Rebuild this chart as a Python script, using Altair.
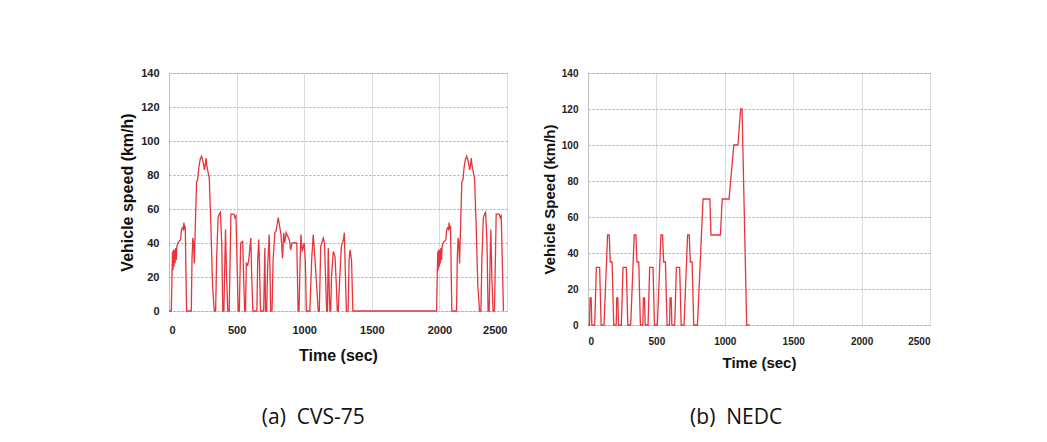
import altair as alt
import pandas as pd

# ---------------- CVS-75 (FTP-75) trace ----------------
cvs_phase1_t = [0, 17, 22, 26, 29, 33, 37, 41, 45, 49,
                54, 58, 65, 75, 86, 92, 100, 106, 110, 115,
                120, 124, 130, 165, 170, 176, 182, 187, 193, 199,
                204, 212, 220, 230, 240, 248, 256, 262, 268, 274,
                280, 288, 298, 310, 322, 335, 345, 352, 363, 372,
                380, 390, 398, 406, 412, 418, 426, 435, 445, 452,
                458, 470, 480, 488, 495, 503, 512]
cvs_phase1_v = [0, 0, 20, 35, 24, 36, 26, 36, 28, 37,
                30, 38, 40, 41, 42, 48, 49, 48, 52, 49,
                50, 30, 0, 0, 30, 43, 40, 28, 45, 62,
                76, 77, 84, 89, 91, 89, 86, 83, 86, 90,
                85, 82, 78, 50, 15, 0, 0, 30, 55, 57,
                58, 40, 0, 0, 25, 48, 20, 0, 0, 30,
                57, 57, 57, 55, 56, 30, 0]

cvs_phase2_t = [520, 530, 545, 552, 560, 566, 572, 582, 590, 605,
                612, 620, 650, 656, 664, 670, 677, 700, 709, 714,
                722, 730, 741, 748, 752, 762, 770, 783, 792, 808,
                818, 828, 840, 848, 856, 866, 878, 890, 900, 910,
                930, 945, 955, 962, 970, 976, 985, 1000, 1008, 1016,
                1042, 1055, 1067, 1080, 1092, 1104, 1112, 1122, 1141, 1150,
                1160, 1166, 1172, 1178, 1186, 1191, 1196, 1202, 1215, 1228,
                1238, 1245, 1252, 1262, 1275, 1290, 1297, 1305, 1312, 1325,
                1332, 1339, 1350, 1360, 1370]
cvs_phase2_v = [0, 40, 41, 20, 0, 0, 28, 27, 30, 43,
                20, 0, 0, 30, 42, 25, 0, 0, 37, 0,
                0, 26, 45, 20, 0, 0, 30, 46, 47, 55,
                50, 45, 31, 46, 40, 46, 44, 42, 36, 40,
                40, 40, 0, 0, 30, 45, 35, 40, 30, 0,
                0, 30, 45, 30, 15, 0, 0, 38, 43, 40,
                15, 0, 0, 37, 10, 0, 0, 20, 35, 32,
                15, 0, 0, 18, 38, 42, 46, 20, 0, 0,
                30, 36, 30, 0, 0]

cvs_phase3_t = [1962, 1979, 1984, 1988, 1991, 1995, 1999, 2003, 2007, 2011,
                2016, 2020, 2027, 2037, 2048, 2054, 2062, 2068, 2072, 2077,
                2082, 2086, 2092, 2127, 2132, 2138, 2144, 2149, 2155, 2161,
                2166, 2174, 2182, 2192, 2202, 2210, 2218, 2224, 2230, 2236,
                2242, 2250, 2260, 2272, 2284, 2297, 2307, 2314, 2325, 2334,
                2342, 2352, 2360, 2368, 2374, 2380, 2388, 2397, 2407, 2414,
                2420, 2432, 2442, 2450, 2457, 2465, 2474]
cvs_phase3_v = [0, 0, 20, 35, 24, 36, 26, 36, 28, 37,
                30, 38, 40, 41, 42, 48, 49, 48, 52, 49,
                50, 30, 0, 0, 30, 43, 40, 28, 45, 62,
                76, 77, 84, 89, 91, 89, 86, 83, 86, 90,
                85, 82, 78, 50, 15, 0, 0, 30, 55, 57,
                58, 40, 0, 0, 25, 48, 20, 0, 0, 30,
                57, 57, 57, 55, 56, 30, 0]

# ---------------- NEDC trace ----------------
nedc_t = [0, 11, 15, 23, 28, 49, 61, 85, 96, 117, 143, 155, 163, 176, 188,
          195, 206, 210, 218, 223, 244, 256, 280, 291, 312, 338, 350, 358, 371, 383,
          390, 401, 405, 413, 418, 439, 451, 475, 486, 507, 533, 545, 553, 566, 578,
          585, 596, 600, 608, 613, 634, 646, 670, 681, 702, 728, 740, 748, 761, 773,
          780, 800, 841, 891, 899, 968, 981, 1031, 1066, 1096, 1116, 1126, 1160, 1180]
nedc_v = [0, 0, 15, 15, 0, 0, 32, 32, 0, 0, 50, 50, 35, 35, 0,
          0, 0, 15, 15, 0, 0, 32, 32, 0, 0, 50, 50, 35, 35, 0,
          0, 0, 15, 15, 0, 0, 32, 32, 0, 0, 50, 50, 35, 35, 0,
          0, 0, 15, 15, 0, 0, 32, 32, 0, 0, 50, 50, 35, 35, 0,
          0, 0, 70, 70, 50, 50, 70, 70, 100, 100, 120, 120, 0, 0]

x_ticks = [0, 500, 1000, 1500, 2000, 2500]
y_ticks = [0, 20, 40, 60, 80, 100, 120, 140]

captions = ["(a)\u00a0\u00a0CVS-75", "(b)\u00a0\u00a0NEDC"]
y_titles = ["Vehicle speed (km/h)", "Vehicle Speed (km/h)"]
x_title = "Time (sec)"

cvs_df = pd.DataFrame({
    "t": cvs_phase1_t + cvs_phase2_t + cvs_phase3_t,
    "v": cvs_phase1_v + cvs_phase2_v + cvs_phase3_v,
})
nedc_df = pd.DataFrame({"t": nedc_t, "v": nedc_v})

LINE = "#e8343c"
FONT = "Liberation Sans"


def panel(df, ytitle, caption, w, h, title_size, label_size, label_pad, title_pad_x,
          cap_offset, ytp):
    x = alt.X("t:Q", scale=alt.Scale(domain=[0, 2500], nice=False),
              axis=alt.Axis(values=x_ticks, format="d", title=x_title, grid=True,
                            gridColor="#dcdcdc", gridWidth=1, ticks=False, domain=False,
                            labelFont=FONT, labelFontWeight="bold", labelFontSize=label_size,
                            labelColor="#222", labelPadding=label_pad, titleFont=FONT,
                            titleFontWeight="bold", titleFontSize=title_size,
                            titleColor="#111", titlePadding=title_pad_x))
    y = alt.Y("v:Q", scale=alt.Scale(domain=[0, 140], nice=False),
              axis=alt.Axis(values=y_ticks, format="d", title=ytitle, grid=True,
                            gridColor="#a8a8a8", gridDash=[2, 2], gridWidth=1, ticks=False,
                            domain=True, domainColor="#c0c0c0", labelFont=FONT,
                            labelFontWeight="bold", labelFontSize=label_size,
                            labelColor="#222", labelPadding=10, titleFont=FONT,
                            titleFontWeight="bold", titleFontSize=title_size,
                            titleColor="#111", titlePadding=ytp))
    return alt.Chart(df).mark_line(color=LINE, strokeWidth=1.3).encode(
        x=x, y=y, order="t:Q"
    ).properties(
        width=w, height=h,
        title=alt.TitleParams(caption, orient="bottom", anchor="middle", frame="bounds",
                              font="Open Sans", fontSize=21, fontWeight="normal",
                              color="#111", offset=cap_offset),
    )


left = panel(cvs_df, y_titles[0], captions[0], 338, 238, 16, 11, 13, 12, 44, 5)
right = panel(nedc_df, y_titles[1], captions[1], 342, 252, 15, 10, 11, 9, 37, 4)

chart = alt.hconcat(left, right, spacing=33).properties(
    padding={"left": 111, "top": 58, "right": 0, "bottom": 0}
).configure_view(stroke="#c8c8c8", strokeWidth=1).configure(background="white")

chart.save("out.html", embed_options={"renderer": "svg", "actions": False})
